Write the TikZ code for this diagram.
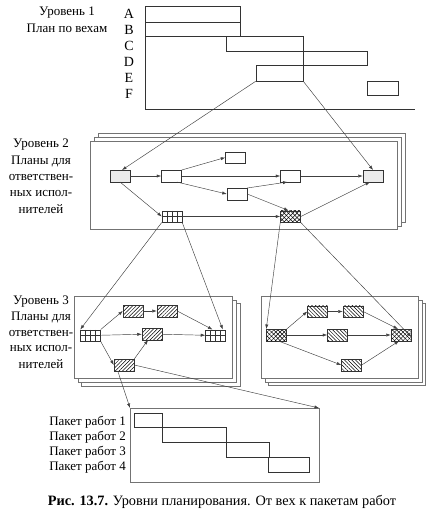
\documentclass[tikz,border=0pt]{standalone}
\usepackage{fontspec}
\setmainfont{Liberation Serif}
\usetikzlibrary{arrows.meta,patterns.meta}
\tikzset{
  lbl/.style={inner sep=0pt, font=\fontsize{13}{15}\selectfont},
  frm/.style={draw=black!55, line width=0.5pt, fill=white},
  barx/.style={draw=black!80, line width=0.55pt, inner sep=0pt},
  arr/.style={draw=black!75, line width=0.45pt, -{Latex[length=4.5pt,width=3.2pt]}},
  ln/.style={draw=black!75, line width=0.45pt},
  tsk/.style={draw=black!80, line width=0.5pt, minimum width=20pt, minimum height=11.5pt, inner sep=0pt, fill=white},
  dotb/.style={tsk, fill=black!8},
  hne/.style={tsk, fill=none, preaction={fill=white}, pattern={Lines[angle=45,distance=2.6pt,line width=0.5pt]}},
  hnw/.style={tsk, fill=none, preaction={fill=white}, pattern={Lines[angle=-45,distance=2.6pt,line width=0.5pt]}},
  xh/.style={tsk, fill=none, preaction={fill=white}, preaction={pattern={Lines[angle=45,distance=3pt,line width=0.5pt]}}, pattern={Lines[angle=-45,distance=3pt,line width=0.5pt]}},
  grd/.style={tsk, path picture={
     \draw[black!80, line width=0.4pt] ([xshift=-5pt]path picture bounding box.north) -- ([xshift=-5pt]path picture bounding box.south);
     \draw[black!80, line width=0.4pt] (path picture bounding box.north) -- (path picture bounding box.south);
     \draw[black!80, line width=0.4pt] ([xshift=5pt]path picture bounding box.north) -- ([xshift=5pt]path picture bounding box.south);
     \draw[black!80, line width=0.4pt] (path picture bounding box.west) -- (path picture bounding box.east);}},
}
\begin{document}
\begin{tikzpicture}[x=1pt,y=-1pt]
\useasboundingbox[fill=white] (0,0) rectangle (439,523);

% ---------- Level 1 ----------
\node[lbl] (t1a) at (67,13) {Уровень 1};
\node[lbl] (t1b) at (67,28) {План по вехам};
\foreach \l/\yy in {A/14,B/30,C/46,D/62,E/78,F/94}
  \node[lbl, font=\fontsize{14}{16}\selectfont] (L\l) at (129,\yy) {\l};
\coordinate (ax0) at (145,6);
\coordinate (ax1) at (145,109);
\coordinate (ax2) at (415,109);
\draw[ln, draw=black!80, line width=0.55pt] (ax0) -- (ax1) -- (ax2);
\node[barx, minimum width=95pt, minimum height=16pt] (bA) at (192.5,14) {};
\node[barx, minimum width=95pt, minimum height=14pt] (bB) at (192.5,29) {};
\node[barx, minimum width=77pt, minimum height=15pt] (bC) at (264.5,43.5) {};
\node[barx, minimum width=64pt, minimum height=14pt] (bD) at (335,58) {};
\node[barx, minimum width=47pt, minimum height=16pt] (bE) at (279.5,73) {};
\node[barx, minimum width=31pt, minimum height=14pt] (bF) at (382.5,88) {};

% ---------- Level 2 ----------
\foreach \t/\yy [count=\i] in {Уровень 2/145,Планы для/161,ответствен-/177,ных испол-/193,нителей/209}
  \node[lbl] (t2\i) at (41,\yy) {\t};
\draw[frm] (98,133) rectangle (405,222);
\draw[frm] (94,137) rectangle (401,226);
\draw[frm] (90,141) rectangle (397,229);

\node[dotb] (n1) at (120,176) {};
\node[tsk]  (n2) at (171.5,176) {};
\node[tsk]  (n3) at (235.5,157.5) {};
\node[tsk]  (n4) at (237,194) {};
\node[tsk]  (n5) at (290.5,176) {};
\node[dotb] (n6) at (373,176) {};
\node[grd]  (n7) at (172,216.5) {};
\node[xh]   (n8) at (290.5,216.5) {};

\draw[arr] (n1) -- (n2);
\draw[arr] (n2.north east) -- (n3.west);
\draw[arr] (n2) -- (n5);
\draw[arr] ([xshift=-5pt]n2.south east) -- (n4.west);
\draw[arr] (n4.north east) -- ([xshift=-3pt]n5.south);
\draw[arr] (n5) -- (n6);
\draw[arr] (n1.south) -- (n7.west);
\draw[arr] (n7) -- (n8);
\draw[arr] (n4.east) -- ([xshift=-2pt]n8.north);
\draw[arr] (n8.east) -- ([xshift=-3pt]n6.south);

\draw[arr] (bE.south west) -- ([xshift=2pt]n1.north);
\draw[arr] (bE.south east) -- (n6.north);

% ---------- Level 3 ----------
\foreach \t/\yy [count=\i] in {Уровень 3/302,Планы для/317.5,ответствен-/333,ных испол-/348.5,нителей/364}
  \node[lbl] (t3\i) at (41,\yy) {\t};
\draw[frm] (81,303) rectangle (240,386);
\draw[frm] (78,300) rectangle (236,382);
\draw[frm] (74,296) rectangle (232,378);
\draw[frm] (268,303) rectangle (425,385);
\draw[frm] (265,300) rectangle (422,382);
\draw[frm] (261,296) rectangle (418,378);

\node[grd] (g1) at (90.5,335.5) {};
\node[hne] (h1) at (133,311) {};
\node[hne] (h2) at (167,311) {};
\node[hne] (h3) at (152,334) {};
\node[grd] (g2) at (215.5,335.5) {};
\node[hne] (h4) at (124,365) {};

\draw[arr] (g1.north east) -- (h1.west);
\draw[arr] (h1) -- (h2);
\draw[arr] (h2.east) -- ([xshift=-3pt]g2.north);
\draw[arr] (g1) -- (h3);
\draw[arr] (h3) -- (g2);
\draw[arr] (g1.south east) -- (h4.west);
\draw[arr] (h4.north east) -- ([xshift=-4pt]h3.south);

\node[xh]  (x1) at (276.5,335) {};
\node[hnw] (r1) at (317.5,311.5) {};
\node[hnw] (r2) at (353,311.5) {};
\node[hnw] (r3) at (337.5,335) {};
\node[xh]  (x2) at (401,335) {};
\node[hnw] (r4) at (351.5,365) {};

\draw[arr] (x1.north east) -- (r1.west);
\draw[arr] (r1) -- (r2);
\draw[arr] (r2.east) -- ([xshift=-3pt]x2.north);
\draw[arr] (x1) -- (r3);
\draw[arr] (r3) -- (x2);
\draw[arr] ([xshift=2pt]x1.south) -- (r4.west);
\draw[arr] (r4.east) -- ([xshift=-2pt]x2.south);

\draw[arr] (n7.south west) -- (g1.north west);
\draw[arr] (n7.south east) -- ([xshift=-3pt]g2.north east);
\draw[arr] (n8.south west) -- (x1.north west);
\draw[arr] (n8.south east) -- ([yshift=-2pt]x2.east);

% ---------- Work packages ----------
\draw[frm] (130,408) rectangle (319,482);
\coordinate (pk1) at (130,408);
\coordinate (pk2) at (319,408);
\draw[arr] ([xshift=4pt]h4.south west) -- (pk1);
\draw[arr] (h4.east) -- (pk2);

\foreach \yy [count=\i] in {422,437,452,467}
  \node[lbl, anchor=east] (p\i) at (126,\yy) {Пакет работ \i};
\node[barx, minimum width=28pt, minimum height=14pt] (w1) at (148,420) {};
\node[barx, minimum width=64pt, minimum height=15pt] (w2) at (194,434.5) {};
\node[barx, minimum width=43pt, minimum height=15pt] (w3) at (247.5,449.5) {};
\node[barx, minimum width=41pt, minimum height=15pt] (w4) at (288.5,464.5) {};

% ---------- Caption ----------
\node[lbl, font=\fontsize{14.3}{16}\selectfont] (cap) at (222,502) {\textbf{Рис. 13.7.} Уровни планирования. От вех к пакетам работ};
\end{tikzpicture}
\end{document}
